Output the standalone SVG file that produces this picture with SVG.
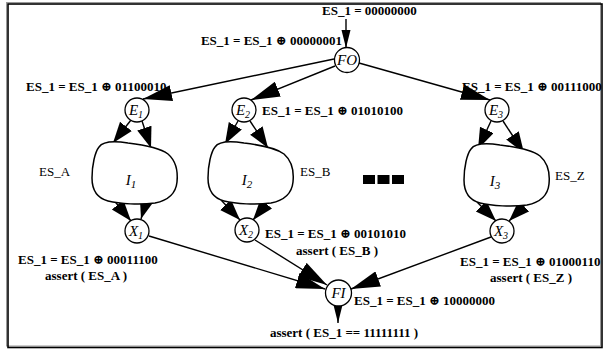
<svg xmlns="http://www.w3.org/2000/svg" width="607" height="349" viewBox="0 0 607 349">
<style>
.b{font-family:"Liberation Serif","DejaVu Serif",serif;font-weight:bold;font-size:13px;fill:#000}
.r{font-family:"Liberation Serif","DejaVu Serif",serif;font-size:13px;fill:#000}
.n{font-family:"Liberation Serif","DejaVu Serif",serif;font-style:italic;font-size:15px;fill:#000}
.c{fill:#fff;stroke:#000;stroke-width:1.3}
.blob{fill:#fff;stroke:#000;stroke-width:1.5}
.e{stroke:#000;stroke-width:1.4;fill:none}
</style>
<defs>
<marker id="big" markerUnits="userSpaceOnUse" markerWidth="30" markerHeight="16" refX="29" refY="8" orient="auto"><path d="M0,0 L29,8 L0,16 z" fill="#000"/></marker>
<marker id="mid" markerUnits="userSpaceOnUse" markerWidth="22" markerHeight="16" refX="21" refY="7.5" orient="auto"><path d="M0,0 L21,7.5 L0,15 z" fill="#000"/></marker>
<marker id="thin" markerUnits="userSpaceOnUse" markerWidth="19" markerHeight="10" refX="18" refY="4.5" orient="auto"><path d="M0,0 L18,4.5 L0,9 z" fill="#000"/></marker>
<path id="blobshape" d="M99,147 C103,141 115,141 128,143 C145,145 160,148 168,154 C176,161 178,172 177,182 C176,192 170,200 155,203 C140,205 120,204 108,201 C97,198 92,190 92,178 C92,165 95,152 99,147 Z"/>
</defs>
<rect x="0" y="0" width="607" height="349" fill="#fff"/>
<rect x="6.5" y="2.5" width="594" height="343.5" fill="none" stroke="#999" stroke-width="1"/>
<rect x="8" y="4" width="594" height="343.5" fill="none" stroke="#000" stroke-width="1.6"/>

<g id="connectors">
<line class="e" x1="346" y1="19" x2="346" y2="48" marker-end="url(#thin)"/>
<line class="e" x1="334" y1="59" x2="143" y2="99" marker-end="url(#big)"/>
<line class="e" x1="335" y1="66" x2="251" y2="100" marker-end="url(#big)"/>
<line class="e" x1="359" y1="63" x2="490" y2="100" marker-end="url(#big)"/>
<line class="e" x1="131" y1="120" x2="113" y2="143" marker-end="url(#mid)"/>
<line class="e" x1="142" y1="121" x2="151" y2="148" marker-end="url(#mid)"/>
<line class="e" x1="238" y1="121" x2="225" y2="144" marker-end="url(#mid)"/>
<line class="e" x1="250" y1="121" x2="268" y2="148" marker-end="url(#mid)"/>
<line class="e" x1="491" y1="121" x2="478" y2="149" marker-end="url(#mid)"/>
<line class="e" x1="503" y1="121" x2="524" y2="153" marker-end="url(#mid)"/>
<line class="e" x1="112" y1="198" x2="131" y2="221" marker-end="url(#mid)"/>
<line class="e" x1="147" y1="199" x2="141" y2="219" marker-end="url(#mid)"/>
<line class="e" x1="221" y1="200" x2="240" y2="220" marker-end="url(#mid)"/>
<line class="e" x1="271" y1="198" x2="253" y2="220" marker-end="url(#mid)"/>
<line class="e" x1="477" y1="202" x2="496" y2="221" marker-end="url(#mid)"/>
<line class="e" x1="527" y1="203" x2="509" y2="221" marker-end="url(#mid)"/>
<line class="e" x1="149" y1="236" x2="325" y2="289" marker-end="url(#big)"/>
<line class="e" x1="255" y1="240" x2="327" y2="285" marker-end="url(#big)"/>
<line class="e" x1="491" y1="237" x2="351" y2="289" marker-end="url(#big)"/>
<line class="e" x1="338" y1="306" x2="338" y2="323" marker-end="url(#thin)"/>
</g>

<g id="FO"><circle class="c" cx="347" cy="60" r="12.5"/><text class="n" x="347" y="65" text-anchor="middle">FO</text></g>
<g id="E1"><circle class="c" cx="137" cy="110" r="12"/><text class="n" x="136" y="115" text-anchor="middle">E<tspan font-size="10" dy="3">1</tspan></text></g>
<g id="E2"><circle class="c" cx="244" cy="110" r="12"/><text class="n" x="243" y="115" text-anchor="middle">E<tspan font-size="10" dy="3">2</tspan></text></g>
<g id="E3"><circle class="c" cx="497" cy="110" r="12"/><text class="n" x="496" y="115" text-anchor="middle">E<tspan font-size="10" dy="3">3</tspan></text></g>
<g id="I1"><use href="#blobshape" class="blob"/><text class="n" x="131" y="185" text-anchor="middle" font-size="16">I<tspan font-size="11" dy="3">1</tspan></text></g>
<g id="I2"><use href="#blobshape" class="blob" transform="translate(116,0)"/><text class="n" x="247" y="185" text-anchor="middle" font-size="16">I<tspan font-size="11" dy="3">2</tspan></text></g>
<g id="I3"><use href="#blobshape" class="blob" transform="translate(372,2)"/><text class="n" x="495" y="186" text-anchor="middle" font-size="16">I<tspan font-size="11" dy="3">3</tspan></text></g>
<g id="X1"><circle class="c" cx="137" cy="231" r="12"/><text class="n" x="136" y="236" text-anchor="middle">X<tspan font-size="10" dy="3">1</tspan></text></g>
<g id="X2"><circle class="c" cx="247" cy="230" r="12"/><text class="n" x="246" y="235" text-anchor="middle">X<tspan font-size="10" dy="3">2</tspan></text></g>
<g id="X3"><circle class="c" cx="502" cy="231" r="12"/><text class="n" x="501" y="236" text-anchor="middle">X<tspan font-size="10" dy="3">3</tspan></text></g>
<g id="FI"><circle class="c" cx="338.5" cy="293" r="13"/><text class="n" x="338.5" y="298" text-anchor="middle">FI</text></g>

<g id="dots" fill="#000">
<rect x="363" y="175" width="12" height="9"/>
<rect x="377.5" y="175" width="12" height="9"/>
<rect x="392" y="175" width="12" height="9"/>
</g>

<g id="labels">
<text class="b" x="322" y="15">ES_1 = 00000000</text>
<text class="b" x="342" y="45" text-anchor="end">ES_1 = ES_1 ⊕ 00000001</text>
<text class="b" x="26" y="91">ES_1 = ES_1 ⊕ 01100010</text>
<text class="b" x="262" y="115">ES_1 = ES_1 ⊕ 01010100</text>
<text class="b" x="462" y="91">ES_1 = ES_1 ⊕ 00111000</text>
<text class="r" x="39" y="176">ES_A</text>
<text class="r" x="300" y="176">ES_B</text>
<text class="r" x="555" y="180">ES_Z</text>
<text class="b" x="265" y="238">ES_1 = ES_1 ⊕ 00101010</text>
<text class="b" x="337" y="255" text-anchor="middle">assert ( ES_B )</text>
<text class="b" x="18" y="264">ES_1 = ES_1 ⊕ 00011100</text>
<text class="b" x="86" y="280" text-anchor="middle">assert ( ES_A )</text>
<text class="b" x="460" y="266">ES_1 = ES_1 ⊕ 01000110</text>
<text class="b" x="531" y="282" text-anchor="middle">assert ( ES_Z )</text>
<text class="b" x="354" y="305">ES_1 = ES_1 ⊕ 10000000</text>
<text class="b" x="344" y="337" text-anchor="middle">assert ( ES_1 == 11111111 )</text>
</g>
</svg>
